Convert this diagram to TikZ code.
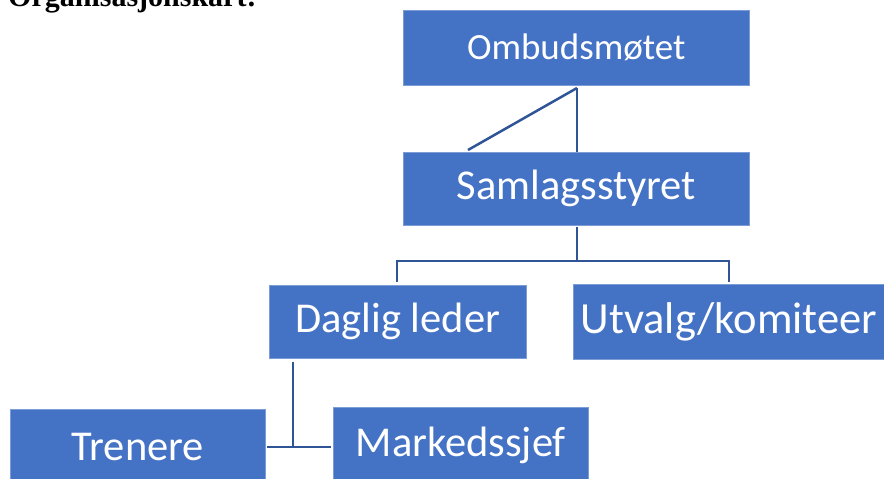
\documentclass[tikz,border=0pt]{standalone}
\usepackage{fontspec}
\setmainfont{Carlito}
\newfontfamily\titlefont{Liberation Serif}
\definecolor{boxblue}{HTML}{4472C4}
\definecolor{linkblue}{HTML}{2F5597}
\begin{document}
\begin{tikzpicture}[x=1pt,y=-1pt,
  orgbox/.style={fill=boxblue,draw=boxblue!70!white,line width=0.6pt,text=white,inner sep=0pt,anchor=north west},
  big/.style={font=\fontsize{42.5}{50}\selectfont},
  link/.style={draw=linkblue,line width=2.5pt}]
\useasboundingbox (0,0) rectangle (884,479);
\node[anchor=base west,inner sep=0pt,font=\titlefont\bfseries\fontsize{30}{36}\selectfont] (title) at (8,6.5) {Organisasjonskart:};
\node[orgbox,minimum width=346pt,minimum height=75pt,font=\fontsize{37}{44}\selectfont] (omb) at (403,10) {Ombudsmøtet};
\node[orgbox,big,minimum width=346pt,minimum height=73pt] (sam) at (403,152) {Samlagsstyret};
\node[orgbox,big,minimum width=257pt,minimum height=73pt] (dag) at (269,285) {Daglig leder};
\node[orgbox,minimum width=311pt,minimum height=75pt,font=\fontsize{44.5}{52}\selectfont] (utv) at (573,284) {Utvalg/komiteer};
\node[orgbox,big,minimum width=255pt,minimum height=75pt] (tre) at (10,409) {Trenere};
\node[orgbox,big,minimum width=255pt,minimum height=77pt] (mar) at (333,407) {Markedssjef};
% connectors
\coordinate (o1) at (577,88);
\coordinate (o2) at (468,150);
\draw[link] (o1) -- (577,152 |- sam.north);
\draw[link] (o1) -- (o2);
\coordinate (s1) at (577,227);
\coordinate (s2) at (577,261);
\draw[link] (s1) -- (s2);
\draw[link] (397,282) -- (397,261) -- (729,261) -- (729,282);
\coordinate (d1) at (293,362);
\coordinate (d2) at (293,447);
\draw[link] (d1) -- (d2);
\draw[link] (267,447) -- (331,447);
\end{tikzpicture}
\end{document}
